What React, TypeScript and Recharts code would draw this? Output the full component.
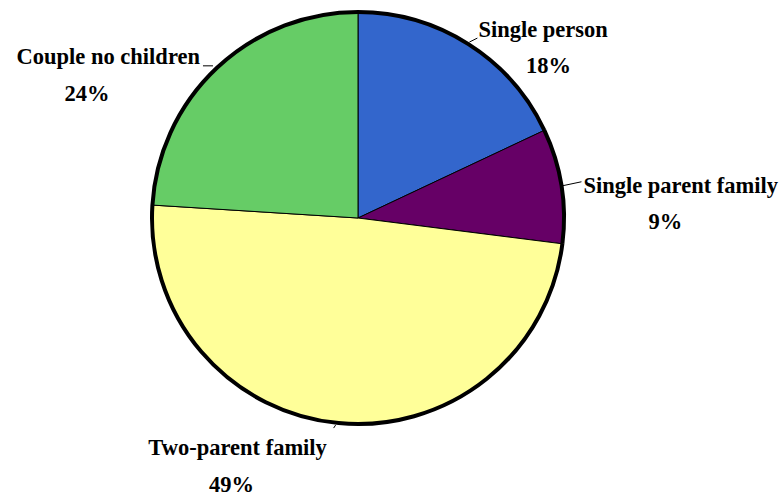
import { PieChart, Pie, Cell } from 'recharts'

const categories = ['Single person', 'Single parent family', 'Two-parent family', 'Couple no children']
const shares = [18, 9, 49, 24]
const colors = ['#3366CC', '#660066', '#FFFF99', '#66CC66']

// label placement relative to the point where the slice's middle meets the rim
const labelPlacement = [
  { tx: 10, ty: -7, anchor: 'start', px: 80, py: 29, l1: [1, -2], l2: [9, -6] },
  { tx: 22, ty: 7, anchor: 'start', px: 104, py: 43, l1: [1, 0], l2: [20, -4] },
  { tx: -101, ty: 32, anchor: 'middle', px: -107, py: 69, l1: [-3, 2], l2: [-5, 5] },
  { tx: -17, ty: -4, anchor: 'end', px: -130, py: 33, l1: [-4, -2], l2: [-14, -2] },
]

const data = categories.map((name, i) => ({ name, value: shares[i] }))

const RAD = Math.PI / 180
const font = '"Palatino Linotype", "Book Antiqua", Palatino, "Liberation Serif", serif'

function renderLabel(props: any) {
  const { cx, cy, midAngle, outerRadius, index, value } = props
  const ex = cx + outerRadius * Math.cos(-midAngle * RAD)
  const ey = cy + outerRadius * Math.sin(-midAngle * RAD)
  const p = labelPlacement[index]
  const total = shares.reduce((s, v) => s + v, 0)
  const pct = Math.round((value / total) * 100)
  return (
    <g key={`lbl-${index}`}>
      <line
        x1={ex + p.l1[0]}
        y1={ey + p.l1[1]}
        x2={ex + p.l2[0]}
        y2={ey + p.l2[1]}
        stroke="#000"
        strokeWidth={1}
      />
      <text
        x={ex + p.tx}
        y={ey + p.ty}
        textAnchor={p.anchor as any}
        fontFamily={font}
        fontWeight="bold"
        fontSize={22.5}
        fill="#000"
      >
        {categories[index]}
      </text>
      <text
        x={ex + p.px}
        y={ey + p.py}
        textAnchor="middle"
        fontFamily={font}
        fontWeight="bold"
        fontSize={22.5}
        fill="#000"
      >
        {pct}%
      </text>
    </g>
  )
}

export default function App() {
  return (
    <div style={{ position: 'fixed', left: 0, top: 0, width: 783, height: 496, background: '#fff', overflow: 'hidden' }}>
      <PieChart width={783} height={496} margin={{ top: 0, right: 0, bottom: 0, left: 0 }}>
        <Pie
          data={data}
          dataKey="value"
          cx={358}
          cy={218}
          outerRadius={206}
          startAngle={90}
          endAngle={-270}
          stroke="#000"
          strokeWidth={1}
          label={renderLabel}
          labelLine={false}
          isAnimationActive={false}
        >
          {data.map((d, i) => (
            <Cell key={d.name} fill={colors[i]} />
          ))}
        </Pie>
        <Pie
          data={data}
          dataKey="value"
          cx={358}
          cy={218}
          innerRadius={206}
          outerRadius={206}
          startAngle={90}
          endAngle={-270}
          fill="none"
          stroke="#000"
          strokeWidth={4}
          isAnimationActive={false}
        />
      </PieChart>
    </div>
  )
}
